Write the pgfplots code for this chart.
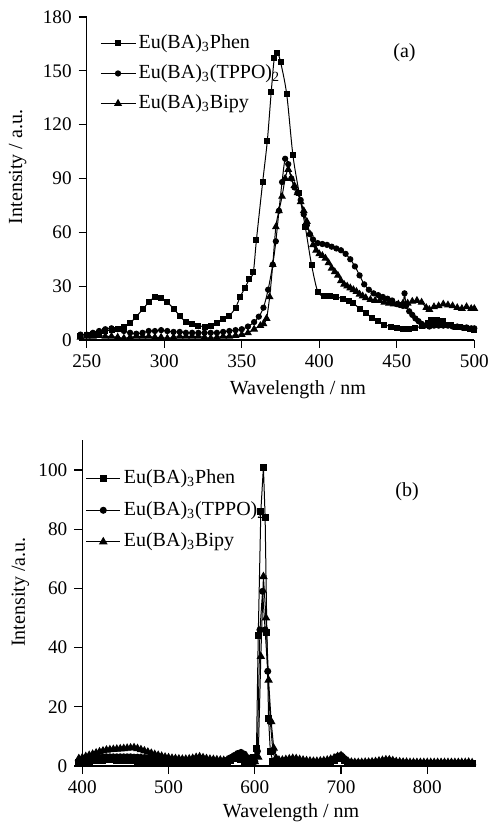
\documentclass[border=0pt]{standalone}
\usepackage{pgfplots}
\pgfplotsset{compat=1.18}
\usepackage{fontspec}
\setmainfont{Liberation Serif}
\begin{document}
\begin{tikzpicture}
\path[use as bounding box] (0,0) rectangle (249pt,411.5pt);
\pgfplotsset{
  myaxis/.style={
    scale only axis,
    axis lines*=left,
    axis line style={-, line width=0.6pt},
    tick align=outside,
    major tick length=4pt,
    tick style={line width=0.6pt, black},
    every tick label/.append style={font=\fontsize{9.6}{11}\selectfont},
    /pgf/number format/assume math mode=true,
    label style={font=\fontsize{10}{12}\selectfont},
    clip=false,
    legend cell align=left,
    legend style={draw=none, fill=none, font=\fontsize{10}{12}\selectfont,
      nodes={inner sep=1.5pt, text depth=0.3em, text height=0.8em}},
  },
  s1/.style={black, line width=0.5pt, mark=square*, mark size=1.25pt, mark options={solid, fill=black}},
  s2/.style={black, line width=0.5pt, mark=*, mark size=1.3pt, mark options={solid, fill=black}},
  s3/.style={black, line width=0.5pt, mark=triangle*, mark size=1.8pt, mark options={solid, fill=black}},
}
% ---------------- (a) ----------------
\begin{axis}[myaxis,
  at={(43.35pt,241.5pt)}, anchor=south west,
  width=193.8pt, height=161.5pt,
  xmin=250, xmax=500, ymin=0, ymax=180,
  xtick={250,300,...,500}, ytick={0,30,...,180},
  xlabel={Wavelength / nm}, ylabel={Intensity / a.u.},
  xlabel style={at={(axis description cs:0.545,0)}, anchor=center, yshift=-25pt},
  ylabel style={at={(axis description cs:-0.178,0.536)}, anchor=center},
  legend style={at={(0.019,0.975)}, anchor=north west, row sep=1pt},
]
\addplot[s1, smooth] coordinates {
(246,2.5)(250,3)(254,3.5)(258,4)(262,5)(266,5.5)(270,6)(274,7)(278,9.5)(282,13)
(286,17)(290,21)(294,24)(298,23.5)(302,21)(306,17.5)(310,13.5)(314,10)(318,9)(322,8)
(326,7.5)(330,8)(334,9.5)(338,11.5)(342,13.5)(346,18)(349,24)(352,29)(355,34)(357.5,38)
(359.5,56)(363.5,88)(366.5,111)(369,138)(371,157)(373,160)(375,155)(379,137)(383,103)(387,82)
(391,63)(395,42)(399,27)(403,24.5)(407,24.5)(411,24)(415,23)(419,22)(422,20.5)(426,17.5)
(430,15)(434,12.5)(438,10.5)(442,8.5)(446,7.5)(450,6.5)(454,6)(458,6)(462,6.5)(466,8)
(470,9.5)(472,11)(474,8.5)(476,11)(478,9)(480,10.5)(482,8.5)(485,8.5)(488,7.5)(491,7)
(494,6.5)(497,6)(500,5.8)
};
\addlegendentry{Eu(BA)\textsubscript{3}Phen}
\addplot[s2, smooth] coordinates {
(246,3)(250,3)(254,4)(258,5)(262,6)(266,6.5)(270,6)(274,5)(278,4)(282,3.5)
(286,4)(290,5)(294,5)(298,5.5)(302,5)(306,4.5)(310,4.5)(314,4)(318,4)(322,4)
(326,4)(330,4)(334,4)(338,4.5)(342,5)(346,5.5)(350,6)(354,7.5)(358,10)(361,13)
(364,18)(367,28)(370,42)(372,55)(374,72)(376,88)(378,101)(380,98)(382,90)(384,85)
(386,82)(388,78)(390,70)(392,64)(394,59)(396,56)(399,54)(402,53.5)(405,53)(408,52)
(411,51)(414,50)(417,48)(420,45)(423,41)(426,36)(429,31)(432,28)(435,26)(438,25)
(441,24)(444,23)(447,22)(450,20)(452,19.5)(454,19)(455,26)(456,19)(458,16)(460,14)
(462,12)(464,10.5)(466,9)(468,8)(471,7.5)(474,8)(477,8)(480,8)(483,8)(486,7.5)
(489,7.5)(492,7)(495,7)(498,6.5)(500,6.5)
};
\addlegendentry{Eu(BA)\textsubscript{3}(TPPO)\textsubscript{2}}
\addplot[s3, smooth] coordinates {
(246,1.5)(250,2)(254,2)(258,2.5)(262,2)(266,2)(270,1.5)(274,1)(278,1.5)(282,2)
(286,2)(290,2)(294,1.5)(298,1.5)(302,1)(306,1.5)(310,2)(314,2)(318,2)(322,2)
(326,1.5)(330,1)(334,1.5)(338,2)(342,2)(346,2.5)(350,3)(354,4)(358,6)(362,8)
(364,9)(366,12)(368,24)(370,42)(372,63)(374,72)(376,80)(378,90)(380,95)(382,90)
(384,86)(386,82)(388,77)(390,72)(392,66)(394,59)(396,53)(398,50)(400,48)(402,47)
(404,45.5)(406,43)(408,40)(410,38)(412,36)(414,33)(416,31)(418,30)(420,29)(422,28)
(424,27)(426,25.5)(428,24.5)(430,23.5)(433,22.5)(436,22)(439,22)(442,21)(445,20.5)(448,20)
(451,20)(454,20.5)(457,20.5)(460,21.5)(463,22)(466,21)(469,18)(471,17)(474,18.5)(477,19)
(480,20)(483,19.5)(486,19)(489,18)(492,17.5)(495,18.5)(498,17.5)(500,17.5)
};
\addlegendentry{Eu(BA)\textsubscript{3}Bipy}
\node[font=\fontsize{10}{12}\selectfont] at (axis cs:455,160) {(a)};
\end{axis}
% ---------------- (b) ----------------
\begin{axis}[myaxis,
  at={(41.15pt,28.5pt)}, anchor=south west,
  width=196.2pt, height=162.8pt,
  xmin=400, xmax=855, ymin=0, ymax=110,
  xtick={400,500,...,800}, ytick={0,20,...,100},
  xlabel={Wavelength / nm}, ylabel={Intensity /a.u.},
  xlabel style={at={(axis description cs:0.532,0)}, anchor=center, yshift=-23.5pt},
  ylabel style={at={(axis description cs:-0.158,0.534)}, anchor=center},
  legend style={at={(-0.0076,0.9386)}, anchor=north west, row sep=1.75pt},
]
\addplot[s1, mark size=1.5pt] coordinates {
(396,1.2)(400,1.3)(404,1.4)(408,1.6)(412,1.8)(416,1.9)(420,2)(424,2)(428,2.1)(432,2.1)
(436,2.1)(440,2)(444,2)(448,1.9)(452,1.8)(456,1.8)(460,1.7)(464,1.6)(468,1.5)(472,1.5)
(476,1.4)(480,1.3)(484,1.3)(488,1.2)(492,1.2)(496,1.1)(500,1.1)(504,1.0)(508,1.0)(512,1.0)
(516,1.0)(520,1.1)(524,1.2)(528,1.3)(532,1.4)(536,1.5)(540,1.4)(544,1.2)(548,1.1)(552,1.0)
(556,1.0)(560,1.0)(564,1.1)(568,1.3)(572,1.8)(576,2.5)(580,2.8)(584,2.2)(588,1.6)(592,1.2)
(596,1.5)(599,3)(602,6)(604,44)(607,86)(610,101)(612,84)(614,45)(616,16)(618,5)
(621,1.5)(624,1)(628,1)(632,1.2)(636,1.3)(640,1.5)(644,1.6)(648,1.5)(652,1.3)(656,1.2)
(660,1.1)(664,1.0)(668,1.0)(672,1.0)(676,1.1)(680,1.2)(684,1.3)(688,1.6)(692,2)(696,2.6)
(700,2.8)(704,2)(708,1.2)(712,0.9)(716,0.8)(720,0.8)(724,0.8)(728,0.8)(732,0.9)(736,0.9)
(740,1.0)(744,1.1)(748,1.3)(752,1.5)(756,1.5)(760,1.3)(764,1.1)(768,1.0)(772,0.9)(776,0.9)
(780,0.8)(784,0.8)(788,0.8)(792,0.8)(796,0.8)(800,0.8)(804,0.8)(808,0.8)(812,0.8)(816,0.8)
(820,0.8)(824,0.8)(828,0.8)(832,0.8)(836,0.8)(840,0.8)(844,0.8)(848,0.8)(852,0.7)
};
\addlegendentry{Eu(BA)\textsubscript{3}Phen}
\addplot[s2, mark size=1.5pt] coordinates {
(396,1.8)(400,2)(404,2.2)(408,2.4)(412,2.6)(416,2.8)(420,2.9)(424,3)(428,3.1)(432,3.1)
(436,3.1)(440,3.1)(444,3.1)(448,3.1)(452,3.1)(456,3.1)(460,3.0)(464,3.0)(468,2.9)(472,2.8)
(476,2.6)(480,2.5)(484,2.4)(488,2.3)(492,2.2)(496,2.1)(500,2.0)(504,1.9)(508,1.8)(512,1.8)
(516,1.8)(520,1.8)(524,1.9)(528,2.1)(532,2.5)(536,2.7)(540,2.3)(544,2)(548,1.8)(552,1.7)
(556,1.6)(560,1.6)(564,1.6)(568,2.0)(572,2.8)(576,3.5)(580,4.2)(584,4.6)(588,4)(592,2.8)
(596,1.8)(600,1.5)(603,5)(606,46)(609,59)(612,46)(615,32)(618,15)(621,5)(624,2)
(628,1.5)(632,1.5)(636,1.7)(640,1.9)(644,2.1)(648,2.0)(652,1.7)(656,1.5)(660,1.4)(664,1.3)
(668,1.3)(672,1.3)(676,1.4)(680,1.5)(684,1.6)(688,1.9)(692,2.4)(696,3.2)(700,3.6)(704,2.5)
(708,1.5)(712,1.2)(716,1.1)(720,1.1)(724,1.1)(728,1.1)(732,1.1)(736,1.2)(740,1.2)(744,1.3)
(748,1.5)(752,1.8)(756,1.9)(760,1.6)(764,1.3)(768,1.2)(772,1.1)(776,1.1)(780,1.0)(784,1.0)
(788,1.0)(792,1.0)(796,1.0)(800,1.0)(804,1.0)(808,1.0)(812,1.0)(816,1.0)(820,1.0)(824,1.0)
(828,1.0)(832,1.0)(836,1.0)(840,1.0)(844,1.0)(848,1.0)(852,0.9)
};
\addlegendentry{Eu(BA)\textsubscript{3}(TPPO)\textsubscript{2}}
\addplot[s3, mark size=2pt] coordinates {
(396,2.5)(400,2.8)(404,3.2)(408,3.6)(412,4)(416,4.4)(420,4.8)(424,5.1)(428,5.4)(432,5.5)
(436,5.6)(440,5.7)(444,5.8)(448,5.9)(452,6)(456,6.1)(460,6.2)(464,5.9)(468,5.5)(472,5.1)
(476,4.7)(480,4.3)(484,3.9)(488,3.6)(492,3.3)(496,3.0)(500,2.8)(504,2.6)(508,2.5)(512,2.4)
(516,2.3)(520,2.3)(524,2.4)(528,2.6)(532,2.9)(536,3.1)(540,2.8)(544,2.5)(548,2.3)(552,2.2)
(556,2.1)(560,2)(564,1.9)(568,2)(572,2.3)(576,2.8)(580,3.2)(584,3.0)(588,2.5)(592,2)
(596,1.6)(600,1.5)(604,3)(607,37)(610,64)(613,50)(616,29)(619,15)(622,6)(625,2.5)
(628,2)(632,2)(636,2.2)(640,2.4)(644,2.6)(648,2.5)(652,2.2)(656,2)(660,1.8)(664,1.7)
(668,1.6)(672,1.6)(676,1.7)(680,1.8)(684,2)(688,2.3)(692,2.7)(696,3.2)(700,3.5)(704,2.5)
(708,1.6)(712,1.3)(716,1.2)(720,1.2)(724,1.2)(728,1.3)(732,1.3)(736,1.4)(740,1.5)(744,1.7)
(748,1.9)(752,2.1)(756,2.1)(760,1.8)(764,1.5)(768,1.4)(772,1.3)(776,1.3)(780,1.2)(784,1.2)
(788,1.2)(792,1.2)(796,1.2)(800,1.2)(804,1.2)(808,1.2)(812,1.2)(816,1.2)(820,1.2)(824,1.2)
(828,1.2)(832,1.2)(836,1.2)(840,1.2)(844,1.2)(848,1.3)(852,1.1)
};
\addlegendentry{Eu(BA)\textsubscript{3}Bipy}
\node[font=\fontsize{10}{12}\selectfont] at (axis cs:776.5,92.6) {(b)};
\end{axis}
\end{tikzpicture}
\end{document}
